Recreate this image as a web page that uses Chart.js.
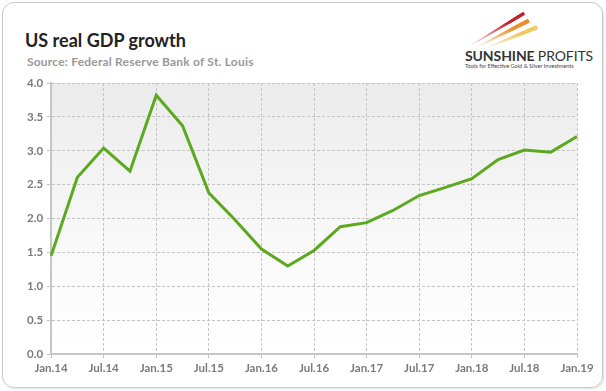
<!DOCTYPE html>
<html>
<head>
<meta charset="utf-8">
<script src="https://cdn.jsdelivr.net/npm/chart.js@4.4.1/dist/chart.umd.min.js"></script>
<style>
  html, body { margin: 0; padding: 0; background: #fff; }
  #wrap { position: relative; width: 606px; height: 391px; overflow: hidden; }
  #card {
    position: absolute; left: 2px; top: 2px; width: 599px; height: 384px;
    border: 1px solid #c9c9c9; border-radius: 12px; box-shadow: 1px 1px 2px rgba(0,0,0,0.12);
  }
  #title { position: absolute; left: 25px; top: 29px; font: bold 18px Lato, sans-serif; color: #222; }
  #subtitle { position: absolute; left: 27px; top: 54px; font: bold 12px Lato, sans-serif; color: #999; letter-spacing: 0.2px; }
  #logo { position: absolute; left: 462px; top: 8px; width: 125px; height: 62px; }
  #logo .ray { position: absolute; transform-origin: 0 50%; border-radius: 0 3px 3px 0; }
  #logo .name { position: absolute; left: 3px; top: 39px; font: bold 14px Lato, sans-serif; color: #333; white-space: nowrap; letter-spacing: -0.1px; }
  #logo .name span { font-weight: normal; }
  #logo .tag { position: absolute; left: 3px; top: 54px; font: 5.6px Lato, sans-serif; color: #444; white-space: nowrap; }
  canvas { position: absolute; left: 0; top: 0; }
</style>
</head>
<body>
<div id="wrap">
  <div id="card"></div>
  <div id="title">US real GDP growth</div>
  <div id="subtitle">Source: Federal Reserve Bank of St. Louis</div>
  <div id="logo">
    <div class="ray" style="left:6px;top:37px;width:66px;height:4px;background:linear-gradient(90deg,rgba(200,30,40,0),#c8202a 70%);clip-path:polygon(0 45%,100% 0,100% 100%,0 55%);transform:rotate(-31deg)"></div>
    <div class="ray" style="left:12px;top:38px;width:62px;height:5px;background:linear-gradient(90deg,rgba(230,140,40,0),#e8912a 70%);clip-path:polygon(0 45%,100% 0,100% 100%,0 55%);transform:rotate(-27deg)"></div>
    <div class="ray" style="left:20px;top:39px;width:60px;height:5px;background:linear-gradient(90deg,rgba(240,200,90,0),#f2c862 70%);clip-path:polygon(0 45%,100% 0,100% 100%,0 55%);transform:rotate(-22deg)"></div>
    <div class="name">SUNSHINE <span>PROFITS</span></div>
    <div class="tag">Tools for Effective Gold &amp; Silver Investments</div>
  </div>
  <canvas id="grafico" width="606" height="391"></canvas>
</div>
<script>
// trimestres Jan.14 .. Jan.19
const quarters = [
  'Jan.14', 'Apr.14', 'Jul.14', 'Oct.14',
  'Jan.15', 'Apr.15', 'Jul.15', 'Oct.15',
  'Jan.16', 'Apr.16', 'Jul.16', 'Oct.16',
  'Jan.17', 'Apr.17', 'Jul.17', 'Oct.17',
  'Jan.18', 'Apr.18', 'Jul.18', 'Oct.18',
  'Jan.19'
];
const gdpGrowth = [
  1.45, 2.61, 3.04, 2.70,
  3.82, 3.37, 2.38, 1.98,
  1.55, 1.30, 1.53, 1.88,
  1.94, 2.12, 2.34, 2.46,
  2.59, 2.87, 3.01, 2.98,
  3.21
];
const yTicks = [0, 0.5, 1, 1.5, 2, 2.5, 3, 3.5, 4];

// fundo em degrade da area do grafico
const fundoPlugin = {
  id: 'fundo',
  beforeDraw(chart) {
    const { ctx, chartArea: a } = chart;
    const g = ctx.createLinearGradient(0, a.top, 0, a.bottom);
    g.addColorStop(0, '#ebebeb');
    g.addColorStop(0.55, '#f8f8f8');
    g.addColorStop(1, '#ffffff');
    ctx.save();
    ctx.fillStyle = g;
    ctx.fillRect(a.left, a.top, a.right - a.left, a.bottom - a.top);
    ctx.restore();
  }
};

const tickFont = { family: 'Lato', size: 11.5, weight: 'bold' };

new Chart(document.getElementById('grafico'), {
  type: 'line',
  data: {
    labels: quarters,
    datasets: [{
      data: gdpGrowth,
      borderColor: '#5ca81f',
      borderWidth: 3,
      pointRadius: 0,
      tension: 0,
      fill: false
    }]
  },
  options: {
    responsive: false,
    animation: false,
    layout: { padding: { left: 23, right: 29, top: 83, bottom: 13 } },
    plugins: { legend: { display: false }, tooltip: { enabled: false } },
    scales: {
      x: {
        offset: false,
        grid: {
          color: c => (c.index % 2 === 0 ? '#c4c4c4' : 'rgba(0,0,0,0)'),
          lineWidth: 1,
          tickLength: 4
        },
        border: { display: true, color: '#c6c6c6', width: 2, dash: [3, 2] },
        ticks: {
          autoSkip: false,
          maxRotation: 0,
          color: '#7a7a7a',
          font: tickFont,
          padding: 3,
          callback: (v, i) => (i % 2 === 0 ? quarters[i] : '')
        }
      },
      y: {
        min: 0,
        max: 4,
        afterBuildTicks: s => { s.ticks = yTicks.map(v => ({ value: v })); },
        grid: { color: '#c4c4c4', lineWidth: 1, tickLength: 4 },
        border: { display: true, color: '#c6c6c6', width: 2, dash: [3, 2] },
        ticks: {
          color: '#7a7a7a',
          font: tickFont,
          padding: 4,
          callback: v => v.toFixed(1)
        }
      }
    }
  },
  plugins: [fundoPlugin]
});
</script>
</body>
</html>
